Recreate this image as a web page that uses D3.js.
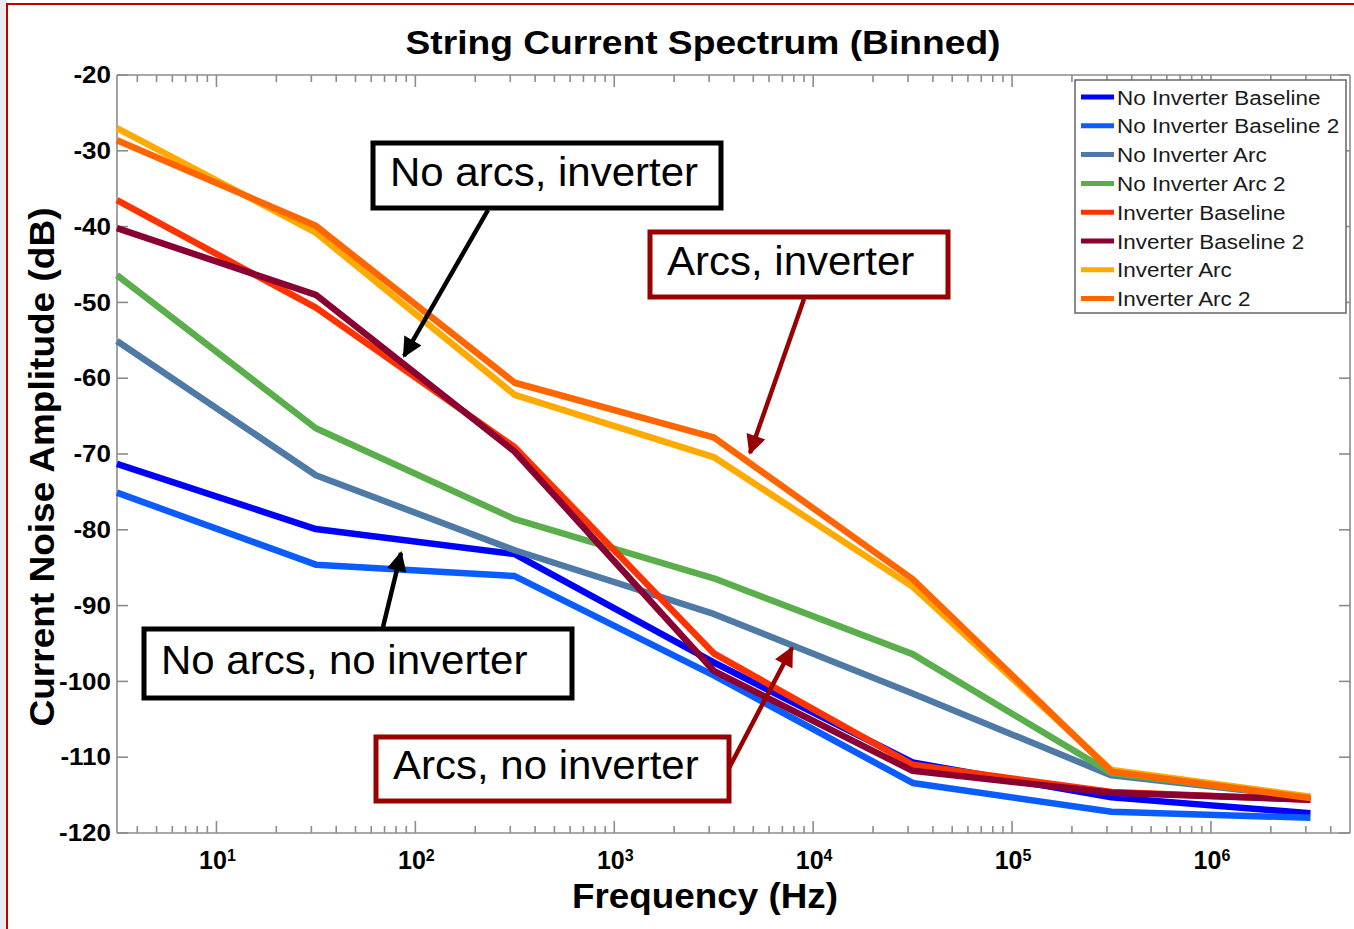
<!DOCTYPE html>
<html>
<head>
<meta charset="utf-8">
<script src="https://cdn.jsdelivr.net/npm/d3@7"></script>
<style>
  html, body { margin: 0; padding: 0; background: #fff; }
  svg { display: block; font-family: "Liberation Sans", Arial, sans-serif; }
</style>
</head>
<body>
<svg id="chart" width="1354" height="929"></svg>
<script>
// Bin centre frequencies (Hz), half-decade offsets
const frequencies = [3.16, 31.6, 316, 3162, 31623, 316228, 3162278];

const seriesNames = [
  "No Inverter Baseline",
  "No Inverter Baseline 2",
  "No Inverter Arc",
  "No Inverter Arc 2",
  "Inverter Baseline",
  "Inverter Baseline 2",
  "Inverter Arc",
  "Inverter Arc 2"
];

// Binned current noise amplitude (dB) per series
const noInverterBaseline  = [-71.3, -79.9, -83.2, -97.5, -110.7, -115.3, -117.4];
const noInverterBaseline2 = [-75.1, -84.6, -86.1, -99.2, -113.4, -117.2, -118.0];
const noInverterArc       = [-55.1, -72.8, -82.7, -91.1, -101.6, -112.4, -115.3];
const noInverterArc2      = [-46.4, -66.6, -78.6, -86.4, -96.4, -112.1, -115.3];
const inverterBaseline    = [-36.5, -50.7, -69.1, -96.3, -111.0, -114.6, -115.6];
const inverterBaseline2   = [-40.2, -49.0, -69.7, -98.6, -111.8, -114.7, -115.6];
const inverterArc         = [-27.0, -40.8, -62.2, -70.4, -87.5, -111.7, -115.2];
const inverterArc2        = [-28.6, -39.9, -60.6, -67.8, -86.5, -111.9, -115.4];

const seriesValues = [
  noInverterBaseline, noInverterBaseline2, noInverterArc, noInverterArc2,
  inverterBaseline, inverterBaseline2, inverterArc, inverterArc2
];

const seriesColors = [
  "#0000ff", "#0a5cff", "#4f7aa6", "#5aae4c",
  "#ff3300", "#8b0032", "#ffaa00", "#ff6600"
];

const yTicks = [-20, -30, -40, -50, -60, -70, -80, -90, -100, -110, -120];
const xMajorExponents = [1, 2, 3, 4, 5, 6];

const titleText = "String Current Spectrum (Binned)";
const xLabel = "Frequency (Hz)";
const yLabel = "Current Noise Amplitude (dB)";

// Callout boxes and their arrows
const callouts = [
  { text: "No arcs, inverter",    color: "#000000", box: [373, 143, 348, 65], from: [488, 210], to: [404, 356] },
  { text: "Arcs, inverter",       color: "#990000", box: [650, 232, 298, 65], from: [804, 299], to: [750, 453] },
  { text: "No arcs, no inverter", color: "#000000", box: [144, 629, 428, 69], from: [383, 627], to: [401, 553] },
  { text: "Arcs, no inverter",    color: "#990000", box: [376, 737, 353, 64], from: [728, 770], to: [792, 648] }
];

const svg = d3.select("#chart");
const W = 1354, H = 929;
const plot = { left: 117, right: 1350, top: 75, bottom: 833 };

// Page frame
svg.append("rect").attr("x", 0).attr("y", 0).attr("width", W).attr("height", H).attr("fill", "#fff");
svg.append("rect").attr("x", 0).attr("y", 0).attr("width", 7).attr("height", H).attr("fill", "#ebebf0");
svg.append("rect").attr("x", 7).attr("y", 4).attr("width", W + 10).attr("height", H + 10)
  .attr("fill", "none").attr("stroke", "#c00000").attr("stroke-width", 2);

const x = d3.scaleLog().domain([Math.pow(10, 0.5), 5e6]).range([plot.left, plot.right]);
const y = d3.scaleLinear().domain([-120, -20]).range([plot.bottom, plot.top]);

const axisColor = "#8c8c8c";

// Log-scale tick positions: decades plus 2..9 minors
const minorTicks = [];
for (let e = 0; e <= 6; e++) {
  for (let k = 2; k <= 9; k++) {
    const v = k * Math.pow(10, e);
    if (v > x.domain()[0] && v < x.domain()[1]) minorTicks.push(v);
  }
}
const majorTicks = xMajorExponents.map(e => Math.pow(10, e));

const axes = svg.append("g").attr("stroke", axisColor).attr("stroke-width", 1.6);

// Spines
axes.append("line").attr("x1", plot.left).attr("x2", plot.right).attr("y1", plot.bottom).attr("y2", plot.bottom);
axes.append("line").attr("x1", plot.left).attr("x2", plot.right).attr("y1", plot.top).attr("y2", plot.top);
axes.append("line").attr("x1", plot.left).attr("x2", plot.left).attr("y1", plot.top).attr("y2", plot.bottom);
axes.append("line").attr("x1", plot.right).attr("x2", plot.right).attr("y1", plot.top).attr("y2", plot.bottom);

// X ticks, bottom (pointing up) and top (pointing down)
[[minorTicks, 7], [majorTicks, 12]].forEach(([ticks, len]) => {
  axes.selectAll(null).data(ticks).enter().append("line")
    .attr("x1", d => x(d)).attr("x2", d => x(d))
    .attr("y1", plot.bottom).attr("y2", plot.bottom - len);
  axes.selectAll(null).data(ticks).enter().append("line")
    .attr("x1", d => x(d)).attr("x2", d => x(d))
    .attr("y1", plot.top).attr("y2", plot.top + len);
});

// Y ticks, left and right
axes.selectAll(null).data(yTicks).enter().append("line")
  .attr("x1", plot.left).attr("x2", plot.left + 11)
  .attr("y1", d => y(d)).attr("y2", d => y(d));
axes.selectAll(null).data(yTicks).enter().append("line")
  .attr("x1", plot.right).attr("x2", plot.right - 11)
  .attr("y1", d => y(d)).attr("y2", d => y(d));

// Y tick labels (slightly widened bold digits)
svg.append("g").selectAll("text").data(yTicks).enter().append("text")
  .attr("transform", d => `translate(${plot.left - 6}, ${y(d)}) scale(1.13, 1)`)
  .attr("dy", "0.36em")
  .attr("text-anchor", "end")
  .attr("font-weight", "bold").attr("font-size", 23)
  .attr("fill", "#000")
  .text(d => d);

// X tick labels: 10 with superscript exponent
const xl = svg.append("g").selectAll("text").data(xMajorExponents).enter().append("text")
  .attr("x", d => x(Math.pow(10, d)) + 1).attr("y", 869)
  .attr("text-anchor", "middle")
  .attr("font-weight", "bold").attr("font-size", 25)
  .attr("fill", "#000");
xl.append("tspan").text("10");
xl.append("tspan").attr("font-size", 16).attr("dy", -8).text(d => d);

// Series lines
const line = d3.line().x((d, i) => x(frequencies[i])).y(d => y(d));
svg.append("g").selectAll("path").data(seriesValues).enter().append("path")
  .attr("d", d => line(d))
  .attr("fill", "none")
  .attr("stroke", (d, i) => seriesColors[i])
  .attr("stroke-width", 6.5)
  .attr("stroke-linejoin", "round")
  .attr("stroke-linecap", "butt");

// Legend
const legend = svg.append("g");
legend.append("rect").attr("x", 1075).attr("y", 80).attr("width", 271).attr("height", 233)
  .attr("fill", "#fff").attr("stroke", "#666").attr("stroke-width", 1.5);
const rows = legend.selectAll("g.row").data(seriesNames).enter().append("g")
  .attr("transform", (d, i) => `translate(0, ${97 + i * 28.8})`);
rows.append("line").attr("x1", 1081).attr("x2", 1114).attr("y1", 0).attr("y2", 0)
  .attr("stroke", (d, i) => seriesColors[i]).attr("stroke-width", 5);
rows.append("text").attr("transform", "translate(1117, 0) scale(1.07, 1)").attr("dy", "0.36em")
  .attr("font-size", 21).attr("fill", "#1a1a1a")
  .text(d => d);

// Callouts
const defs = svg.append("defs");
callouts.forEach((c, i) => {
  const id = "head" + i;
  defs.append("marker").attr("id", id)
    .attr("viewBox", "0 0 10 10").attr("refX", 9).attr("refY", 5)
    .attr("markerWidth", 5).attr("markerHeight", 4.4)
    .attr("markerUnits", "strokeWidth")
    .attr("orient", "auto")
    .append("path").attr("d", "M0,0 L10,5 L0,10 Z").attr("fill", c.color);
  svg.append("line")
    .attr("x1", c.from[0]).attr("y1", c.from[1]).attr("x2", c.to[0]).attr("y2", c.to[1])
    .attr("stroke", c.color).attr("stroke-width", 4.5)
    .attr("marker-end", `url(#${id})`);
  const [bx, by, bw, bh] = c.box;
  svg.append("rect").attr("x", bx).attr("y", by).attr("width", bw).attr("height", bh)
    .attr("fill", "#fff").attr("stroke", c.color).attr("stroke-width", 5);
  svg.append("text")
    .attr("transform", `translate(${bx + 17}, ${by + bh / 2 - 4}) scale(1.05, 1)`)
    .attr("dy", "0.36em")
    .attr("font-size", 40).attr("fill", "#000")
    .text(c.text);
});

// Titles
svg.append("text").attr("x", 703).attr("y", 54).attr("text-anchor", "middle")
  .attr("textLength", 595).attr("lengthAdjust", "spacingAndGlyphs")
  .attr("font-weight", "bold").attr("font-size", 34).attr("fill", "#000").text(titleText);
svg.append("text").attr("x", 705).attr("y", 908).attr("text-anchor", "middle")
  .attr("textLength", 266).attr("lengthAdjust", "spacingAndGlyphs")
  .attr("font-weight", "bold").attr("font-size", 35).attr("fill", "#000").text(xLabel);
svg.append("text").attr("transform", "translate(54, 467) rotate(-90)").attr("text-anchor", "middle")
  .attr("textLength", 519).attr("lengthAdjust", "spacingAndGlyphs")
  .attr("font-weight", "bold").attr("font-size", 35).attr("fill", "#000").text(yLabel);
</script>
</body>
</html>
